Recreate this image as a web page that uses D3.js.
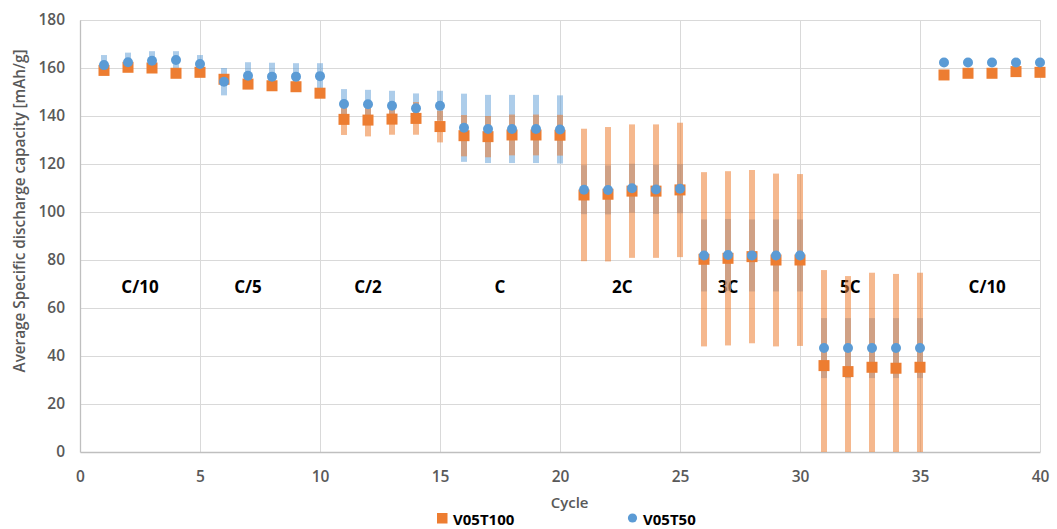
<!DOCTYPE html>
<html><head><meta charset="utf-8">
<script src="https://cdn.jsdelivr.net/npm/d3@7"></script>
<style>
html,body{margin:0;padding:0;background:#fff;}
svg{display:block;}
</style></head>
<body>
<svg id="chart" width="1057" height="529"></svg>
<script>
const cycles = d3.range(1, 41);
const t100Mean = [159.0,160.3,160.0,157.8,158.2,155.3,153.3,152.6,152.2,149.5,
  138.6,138.3,138.7,139.0,135.6,131.8,131.4,132.1,132.1,132.0,
  107.1,107.4,108.7,108.7,109.2,80.3,80.7,81.4,80.0,80.0,
  36.0,33.5,35.3,34.9,35.3,157.1,157.8,157.8,158.5,158.2];
const t100Err = [1.5,1.5,1.5,1.5,1.5,1.5,1.5,1.5,1.5,1.5,
  6.5,6.8,6.5,6.8,6.6,8.6,8.6,8.5,8.5,8.5,
  27.6,28.0,27.8,27.8,28.0,36.3,36.3,36.1,36.0,35.8,
  39.8,39.8,39.4,39.3,39.4,1.0,1.0,1.0,1.0,1.0];
const t50Mean = [161.2,162.4,163.0,163.3,161.7,154.3,156.8,156.4,156.4,156.6,
  145.0,144.9,144.3,143.2,144.3,135.1,134.6,134.6,134.6,134.4,
  109.3,109.2,109.9,109.4,109.7,81.9,82.1,81.9,81.9,81.9,
  43.3,43.3,43.3,43.3,43.3,162.3,162.3,162.3,162.3,162.3];
const t50Err = [4.2,4.0,4.0,3.7,3.7,5.7,5.6,5.8,5.6,5.4,
  6.2,6.0,6.2,6.2,6.2,14.2,14.2,14.2,14.2,14.2,
  10.2,10.2,10.2,10.2,10.2,15.0,15.0,15.0,15.0,15.0,
  12.5,12.5,12.5,12.5,12.5,1.0,1.0,1.0,1.0,1.0];
const seriesNames = ["V05T100","V05T50"];
const phaseLabels = ["C/10","C/5","C/2","C","2C","3C","5C","C/10"];
const phaseX = [2.5,7,12,17.5,22.6,27,32.1,37.8];
const phaseY = 69;
const xTicks = [0,5,10,15,20,25,30,35,40];
const yTicks = [0,20,40,60,80,100,120,140,160,180];

const svg = d3.select("#chart");
const m = {left:80, right:17, top:20, bottom:77};
const W = 1057, H = 529;
const x = d3.scaleLinear().domain([0,40]).range([m.left, W - m.right]);
const y = d3.scaleLinear().domain([0,180]).range([H - m.bottom, m.top]);

const ORANGE = "#ED7D31", BLUE = "#5B9BD5", GRID = "#D9D9D9", TXT = "#595959";
const font = "'Open Sans', sans-serif";

// gridlines
svg.append("g").selectAll("line.h").data(yTicks.filter(d=>d>0)).join("line")
  .attr("x1", x(0)).attr("x2", x(40)).attr("y1", d=>y(d)).attr("y2", d=>y(d))
  .attr("stroke", GRID).attr("stroke-width", 1).attr("shape-rendering","crispEdges");
svg.append("g").selectAll("line.v").data(xTicks.filter(d=>d>0)).join("line")
  .attr("x1", d=>x(d)).attr("x2", d=>x(d)).attr("y1", y(0)).attr("y2", y(180))
  .attr("stroke", GRID).attr("stroke-width", 1).attr("shape-rendering","crispEdges");

// axes
const xAxis = d3.axisBottom(x).tickValues(xTicks).tickSize(0).tickPadding(19);
const yAxis = d3.axisLeft(y).tickValues(yTicks).tickSize(0).tickPadding(15);
const gx = svg.append("g").attr("transform", `translate(0,${y(0)})`).call(xAxis);
const gy = svg.append("g").attr("transform", `translate(${x(0)},0)`).call(yAxis);
[gx, gy].forEach(g => {
  g.select(".domain").attr("stroke", "#BFBFBF").attr("stroke-width", 1.3);
  g.selectAll("text").attr("font-family", font).attr("font-size", 15.5)
    .attr("font-weight", 600).attr("fill", TXT);
});

// phase labels (behind series)
svg.append("g").selectAll("text").data(phaseLabels).join("text")
  .attr("x", (d,i)=>x(phaseX[i])).attr("y", y(phaseY))
  .attr("text-anchor","middle").attr("dominant-baseline","central")
  .attr("font-family", font).attr("font-size", 17).attr("font-weight", 700)
  .attr("fill", "#000").text(d=>d);

const clipId = "plotclip";
svg.append("clipPath").attr("id", clipId).append("rect")
  .attr("x", x(0)).attr("y", y(180)).attr("width", x(40)-x(0)).attr("height", y(0)-y(180));

const barW = 6;
const plot = svg.append("g").attr("clip-path", `url(#${clipId})`);
// blue error bars
plot.append("g").selectAll("rect").data(cycles).join("rect")
  .attr("x", d=>x(d)-barW/2).attr("width", barW)
  .attr("y", (d,i)=>y(t50Mean[i]+t50Err[i]))
  .attr("height", (d,i)=>y(t50Mean[i]-t50Err[i]) - y(t50Mean[i]+t50Err[i]))
  .attr("fill", BLUE).attr("fill-opacity", 0.5);
// orange error bars
plot.append("g").selectAll("rect").data(cycles).join("rect")
  .attr("x", d=>x(d)-barW/2).attr("width", barW)
  .attr("y", (d,i)=>y(t100Mean[i]+t100Err[i]))
  .attr("height", (d,i)=>y(t100Mean[i]-t100Err[i]) - y(t100Mean[i]+t100Err[i]))
  .attr("fill", ORANGE).attr("fill-opacity", 0.55);

// markers
const sq = 11;
svg.append("g").selectAll("rect").data(cycles).join("rect")
  .attr("x", d=>x(d)-sq/2).attr("y", (d,i)=>y(t100Mean[i])-sq/2)
  .attr("width", sq).attr("height", sq).attr("fill", ORANGE);
svg.append("g").selectAll("circle").data(cycles).join("circle")
  .attr("cx", d=>x(d)).attr("cy", (d,i)=>y(t50Mean[i])).attr("r", 5)
  .attr("fill", BLUE);

// axis titles
svg.append("text").attr("x", x(20.4)).attr("y", 508).attr("text-anchor","middle")
  .attr("font-family", font).attr("font-size", 15).attr("font-weight", 600)
  .attr("fill", TXT).text("Cycle");
svg.append("text").attr("transform", `translate(25,211) rotate(-90)`)
  .attr("text-anchor","middle").attr("font-family", font).attr("font-size", 15.3)
  .attr("font-weight", 600).attr("fill", TXT)
  .text("Average Specific discharge capacity [mAh/g]");

// legend
const lg = svg.append("g");
lg.append("rect").attr("x", 437).attr("y", 513).attr("width", 10.5).attr("height", 10.5).attr("fill", ORANGE);
lg.append("text").attr("x", 453).attr("y", 518.5).attr("dominant-baseline","central")
  .attr("font-family", font).attr("font-size", 15).attr("font-weight", 700)
  .attr("fill", "#000").text(seriesNames[0]);
lg.append("circle").attr("cx", 632.5).attr("cy", 518).attr("r", 4.6).attr("fill", BLUE);
lg.append("text").attr("x", 643).attr("y", 518.5).attr("dominant-baseline","central")
  .attr("font-family", font).attr("font-size", 15).attr("font-weight", 700)
  .attr("fill", "#000").text(seriesNames[1]);
</script>
</body></html>
